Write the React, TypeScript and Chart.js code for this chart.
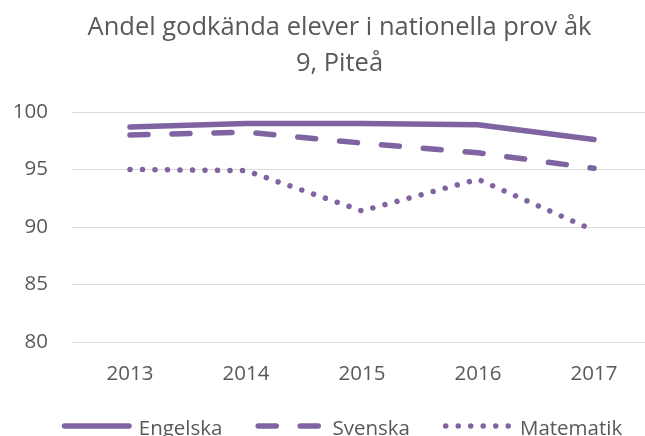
import React, { useEffect, useRef } from "react";
import { Chart, registerables } from "chart.js";

Chart.register(...registerables);

const years = ["2013", "2014", "2015", "2016", "2017"];
const engelska = [98.7, 99.0, 99.0, 98.9, 97.6];
const svenska = [98.0, 98.25, 97.3, 96.45, 95.1];
const matematik = [95.0, 94.9, 91.4, 94.15, 89.7];
const seriesNames = ["Engelska", "Svenska", "Matematik"];
const titleLines = ["Andel godkända elever i nationella prov åk", "9, Piteå"];
const yMin = 80;
const yMax = 100;
const yStep = 5;

const FONT = "'Open Sans'";
const PURPLE = "#8064A2";
const TEXT = "#595959";
const GRID = "#d9d9d9";
const LINE_W = 5.5;

const titlePlugin = {
  id: "customTitle",
  afterDraw(chart: any) {
    const ctx = chart.ctx as CanvasRenderingContext2D;
    ctx.save();
    ctx.font = `25.5px ${FONT}`;
    ctx.fillStyle = TEXT;
    ctx.textAlign = "center";
    ctx.textBaseline = "alphabetic";
    const baselines = [34.5, 71];
    titleLines.forEach((t, i) => ctx.fillText(t, 339.5, baselines[i]));
    ctx.restore();
  },
};

const legendPlugin = {
  id: "customLegend",
  afterDraw(chart: any) {
    const ctx = chart.ctx as CanvasRenderingContext2D;
    ctx.save();
    ctx.font = `20.5px ${FONT}`;
    const lineVis = 70;
    const textGap = 7;
    const itemGap = 33;
    const dsets = chart.data.datasets;
    const widths = dsets.map((d: any) => lineVis + textGap + ctx.measureText(d.label).width);
    const total = widths.reduce((a: number, b: number) => a + b, 0) + itemGap * (dsets.length - 1);
    let x = 342 - total / 2;
    const yLine = 426;
    const yText = 435;
    dsets.forEach((d: any, i: number) => {
      ctx.save();
      ctx.strokeStyle = d.borderColor;
      ctx.lineWidth = d.borderWidth;
      ctx.lineCap = "round";
      ctx.setLineDash(d.borderDash || []);
      ctx.beginPath();
      ctx.moveTo(x + LINE_W / 2, yLine);
      ctx.lineTo(x + lineVis - LINE_W / 2, yLine);
      ctx.stroke();
      ctx.restore();
      ctx.fillStyle = TEXT;
      ctx.textAlign = "left";
      ctx.textBaseline = "alphabetic";
      ctx.fillText(d.label, x + lineVis + textGap, yText);
      x += widths[i] + itemGap;
    });
    ctx.restore();
  },
};

export default function App() {
  const ref = useRef<HTMLCanvasElement | null>(null);

  useEffect(() => {
    document.body.style.overflow = "hidden";
    document.documentElement.style.overflow = "hidden";
    const canvas = ref.current;
    if (!canvas) return;
    const common = {
      borderColor: PURPLE,
      backgroundColor: PURPLE,
      borderWidth: LINE_W,
      borderCapStyle: "round" as const,
      borderJoinStyle: "round" as const,
      pointRadius: 0,
      pointHoverRadius: 0,
      tension: 0,
      fill: false,
    };
    const chart = new Chart(canvas, {
      type: "line",
      data: {
        labels: years,
        datasets: [
          { ...common, label: seriesNames[0], data: engelska },
          { ...common, label: seriesNames[1], data: svenska, borderDash: [18, 24] },
          { ...common, label: seriesNames[2], data: matematik, borderDash: [0.001, 12.5] },
        ],
      },
      options: {
        responsive: true,
        maintainAspectRatio: false,
        animation: false,
        layout: { padding: { left: 0, right: 0, top: 112, bottom: 48 } },
        plugins: {
          legend: { display: false },
          tooltip: { enabled: false },
          title: { display: false },
        },
        scales: {
          x: {
            offset: true,
            grid: { display: false, drawTicks: false },
            border: { display: false },
            ticks: {
              color: TEXT,
              font: { family: FONT, size: 20.5 },
              padding: 20,
              maxRotation: 0,
            },
            afterFit: (s: any) => {
              s.height = 46;
            },
          },
          y: {
            min: yMin,
            max: yMax,
            grid: { color: GRID, lineWidth: 1, drawTicks: false },
            border: { display: false },
            ticks: {
              stepSize: yStep,
              color: TEXT,
              font: { family: FONT, size: 20.5 },
              padding: 24,
            },
            afterFit: (s: any) => {
              s.width = 72;
            },
          },
        },
      },
      plugins: [titlePlugin, legendPlugin],
    });
    return () => chart.destroy();
  }, []);

  return (
    <div style={{ position: "fixed", left: 0, top: 0, width: 652, height: 436, background: "#fff" }}>
      <canvas ref={ref} />
    </div>
  );
}
